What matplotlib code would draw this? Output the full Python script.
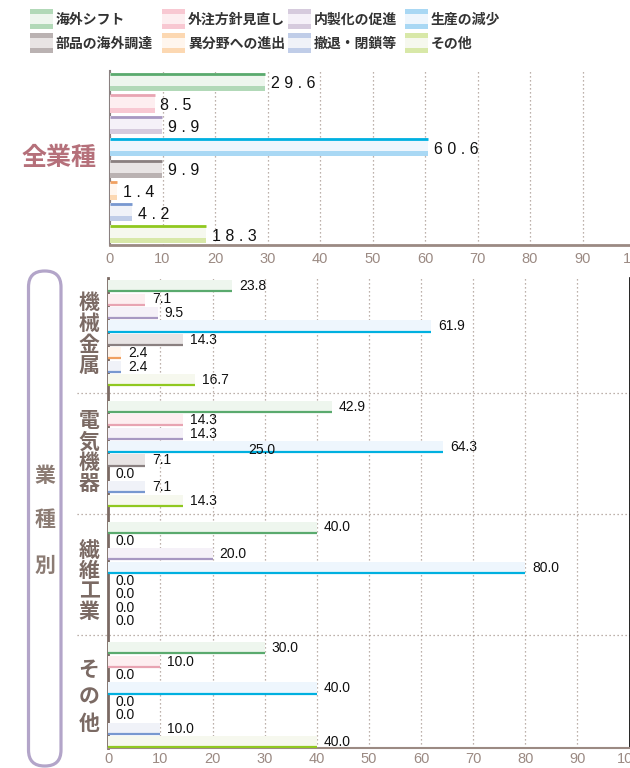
import numpy as np
import matplotlib.pyplot as plt
from matplotlib.patches import Rectangle, FancyBboxPatch
from matplotlib.transforms import IdentityTransform

plt.rcParams['font.family'] = ['Liberation Sans', 'Noto Sans CJK JP']
JP = ['Noto Sans CJK JP', 'DejaVu Sans']

categories = ['海外シフト', '外注方針見直し', '内製化の促進', '生産の減少',
              '部品の海外調達', '異分野への進出', '撤退・閉鎖等', 'その他']
all_industries = [29.6, 8.5, 9.9, 60.6, 9.9, 1.4, 4.2, 18.3]

industries = ['機械金属', '電気機器', '繊維工業', 'その他']
machinery = [23.8, 7.1, 9.5, 61.9, 14.3, 2.4, 2.4, 16.7]
electrical = [42.9, 14.3, 14.3, 64.3, 7.1, 0.0, 7.1, 14.3]
textile = [40.0, 0.0, 20.0, 80.0, 0.0, 0.0, 0.0, 0.0]
others = [30.0, 10.0, 0.0, 40.0, 0.0, 0.0, 10.0, 40.0]
by_industry = [machinery, electrical, textile, others]

ticks = np.arange(0, 101, 10)

light = ['#eef6ee', '#fdeef0', '#f5f1f8', '#eef6fd',
         '#e8e4e4', '#fff6ee', '#f0f2f8', '#f6f8ee']
medium = ['#b2d9b8', '#f8c8d2', '#d6cbdd', '#a9d8f4',
          '#bab2b2', '#fcd8b2', '#c0cde8', '#d8e8a8']
dark = ['#5aaa6e', '#e8a4b2', '#a898c2', '#00b0e0',
        '#8a8080', '#f0a060', '#7898d0', '#90c820']

axis_col = '#9b8a83'
text_col = '#7b6a64'

W, H = 630, 768
fig = plt.figure(figsize=(W / 100, H / 100), dpi=100)


def box(x0, y0, x1, y1):
    # pixel box (top-left origin) -> figure fraction rect
    return [x0 / W, 1 - y1 / H, (x1 - x0) / W, (y1 - y0) / H]


def style_axis(ax, pad):
    ax.set_xlim(0, 100)
    ax.set_xticks(ticks)
    ax.set_yticks([])
    ax.tick_params(axis='x', length=0, pad=pad, labelsize=10.5, labelcolor=axis_col)
    ax.grid(axis='x', linestyle=(0, (1, 2.2)), color='#a89890', lw=0.9)
    ax.set_axisbelow(True)
    ax.spines['top'].set_visible(False)


# ---- 全業種 ----
ax_top = fig.add_axes(box(110, 71, 635, 245))
style_axis(ax_top, 5)
ax_top.spines['right'].set_visible(False)
ax_top.spines['bottom'].set_color(axis_col)
ax_top.spines['bottom'].set_linewidth(2)
ax_top.spines['left'].set_color('#8a8080')
ax_top.spines['left'].set_linewidth(1.5)

y = np.arange(len(categories))
h, band = 0.83, 0.23
ax_top.barh(y, all_industries, height=h, color=light, zorder=3)
ax_top.barh(y + h / 2 - band / 2, all_industries, height=band, color=medium, zorder=4)
ax_top.hlines(y - h / 2 + 0.04, 0, all_industries, colors=dark, lw=2, zorder=5)
for yi, v in zip(y, all_industries):
    ax_top.annotate(' '.join(f'{v:.1f}'), (v, yi), xytext=(4, -1.5),
                    textcoords='offset points', va='center', fontsize=11.5, color='#111111')
ax_top.set_ylim(7.5, -0.5)

fig.text(59 / W, 1 - 158 / H, '全業種', fontsize=18, fontweight='bold',
         color='#b5707a', family=JP, ha='center', va='center')

# ---- 業種別 ----
ax_bot = fig.add_axes(box(108.3, 278, 629.5, 748))
style_axis(ax_bot, 3)
ax_bot.spines['bottom'].set_color(axis_col)
ax_bot.spines['bottom'].set_linewidth(1.5)
ax_bot.spines['left'].set_color(text_col)
ax_bot.spines['left'].set_linewidth(2)
ax_bot.spines['right'].set_color('black')
ax_bot.spines['right'].set_linewidth(1.2)

hb = 0.88
for g, vals in enumerate(by_industry):
    yy = 9 * g + np.arange(len(vals))
    vals = np.array(vals)
    ax_bot.barh(yy, vals, height=hb, color=light, zorder=3)
    nz = vals > 0
    ax_bot.hlines(yy[nz] + hb / 2 - 0.05, 0, vals[nz], colors=np.array(dark)[nz],
                  lw=1.6, zorder=4)
    for yi, v in zip(yy, vals):
        ax_bot.annotate(f'{v:.1f}', (v, yi), xytext=(5, 0), textcoords='offset points',
                        va='center', fontsize=10, color='#111111', zorder=6)
ax_bot.text(29.4, 12.2, '25.0', ha='center', va='center', fontsize=10,
            color='#111111', zorder=6)
ax_bot.set_ylim(34.45, -0.6)

ytr = ax_bot.get_yaxis_transform()
for s in (8, 17, 26):
    ax_bot.plot([-0.06, 1], [s, s], transform=ytr, clip_on=False,
                ls=(0, (1, 2.2)), color='#a89890', lw=0.9)

label_y = [3.6, 12.4, 22.0, 30.6]
spacing = [1.0, 1.0, 0.95, 1.35]
for name, ly, ls in zip(industries, label_y, spacing):
    ax_bot.text(-0.037, ly, '\n'.join(name), transform=ytr, ha='center', va='center',
                fontsize=15, fontweight='bold', color=text_col, family=JP,
                linespacing=ls)

capsule = FancyBboxPatch((28.5, H - 766), 32.5, 495,
                         boxstyle='round,pad=0,rounding_size=16',
                         transform=IdentityTransform(), fill=False,
                         ec='#b3a5c9', lw=2.3)
fig.add_artist(capsule)
for ch, cy in zip('業種別', (475, 520, 565)):
    fig.text(45 / W, 1 - cy / H, ch, fontsize=15, fontweight='bold',
             color='#8c7c74', family=JP, ha='center', va='center')

# ---- legend ----
leg_x = [30, 162, 288, 405]
leg_y = [9, 33]
for k, name in enumerate(categories):
    r, c = divmod(k, 4)
    x0, y0 = leg_x[c], leg_y[r]
    fig.add_artist(Rectangle((x0 / W, 1 - (y0 + 20) / H), 23 / W, 20 / H,
                             transform=fig.transFigure, fc=light[k], ec='none'))
    for top in (y0, y0 + 15):
        fig.add_artist(Rectangle((x0 / W, 1 - (top + 5) / H), 23 / W, 5 / H,
                                 transform=fig.transFigure, fc=medium[k], ec='none'))
    fig.text((x0 + 26) / W, 1 - (y0 + 11) / H, name, fontsize=10, fontweight='bold',
             color='#333333', family=JP, ha='left', va='center')

fig.savefig('out.png', dpi=100)
